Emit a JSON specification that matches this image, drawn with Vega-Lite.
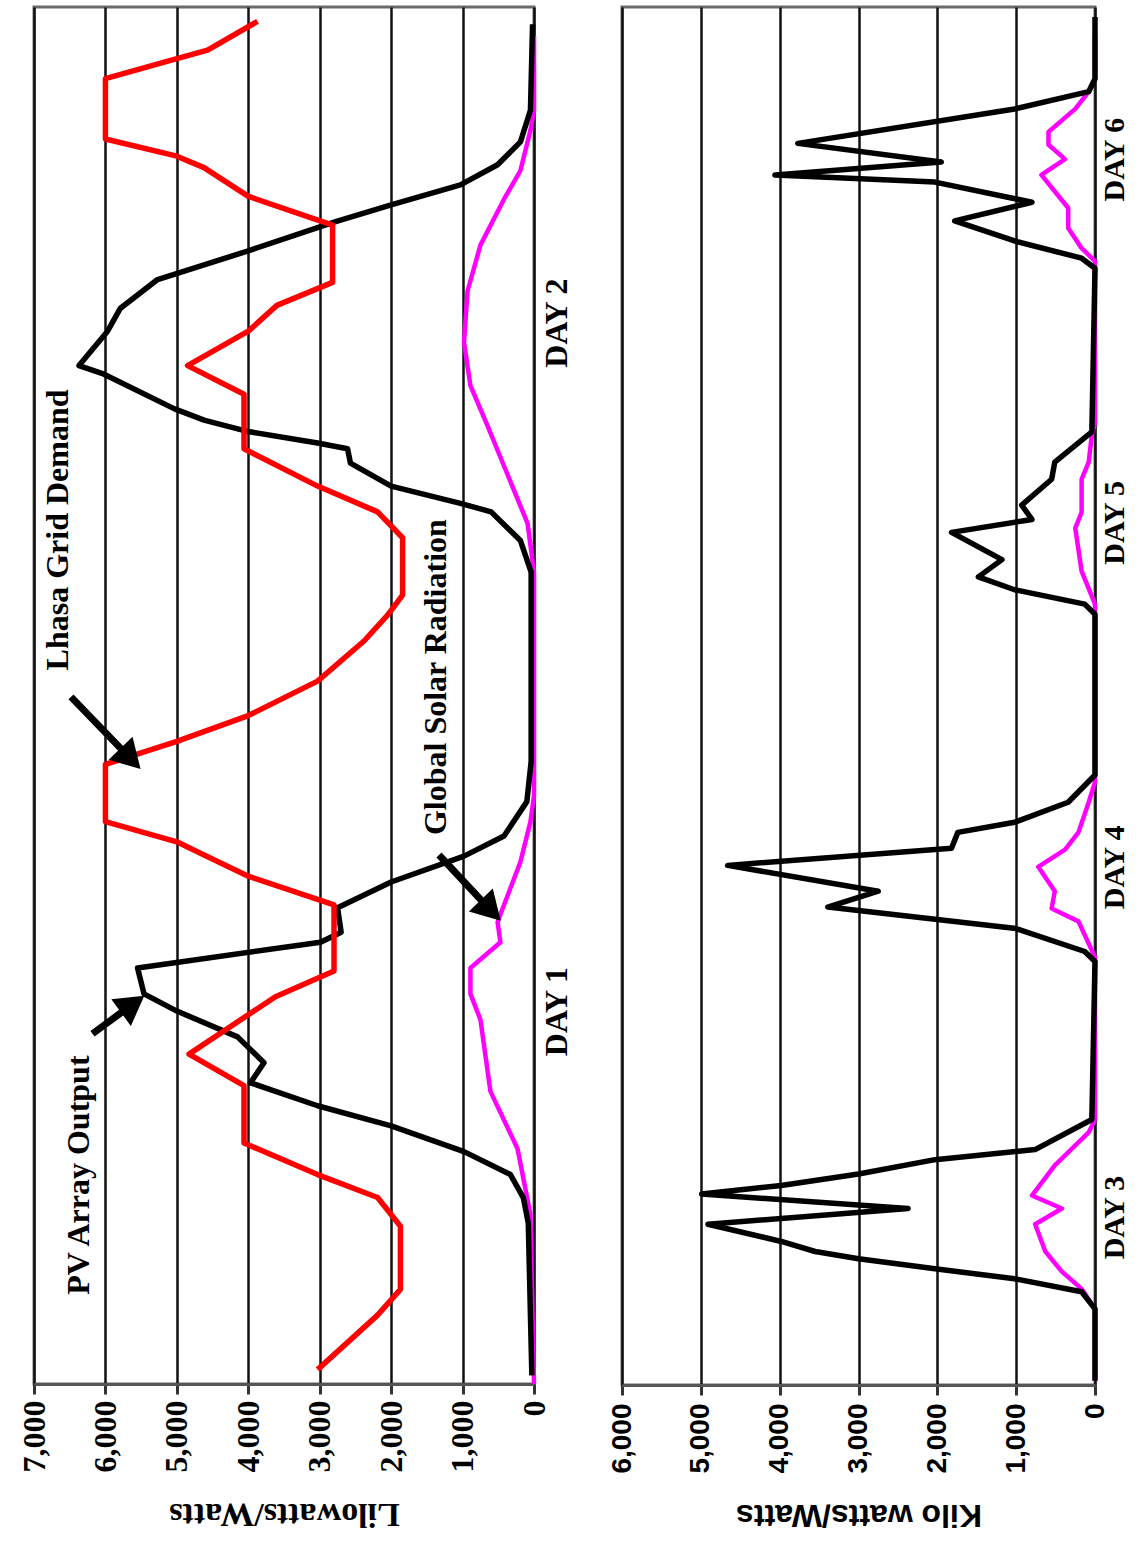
{
  "$schema": "https://vega.github.io/schema/vega-lite/v6.json",
  "padding": {"left": 16, "top": 5, "right": 0, "bottom": 0},
  "background": "white",
  "bounds": "flush",
  "spacing": 88,
  "config": {"view": {"stroke": "#6a6a6a", "strokeWidth": 3}, "line": {"strokeJoin": "round"}},
  "datasets": {
    "p1": [
      {"s":"Global Solar Radiation","h":0,"v":0},{"s":"Global Solar Radiation","h":5.9,"v":50},{"s":"Global Solar Radiation","h":8.2,"v":230},{"s":"Global Solar Radiation","h":10.2,"v":610},{"s":"Global Solar Radiation","h":12.7,"v":750},{"s":"Global Solar Radiation","h":13.6,"v":890},{"s":"Global Solar Radiation","h":14.5,"v":890},{"s":"Global Solar Radiation","h":15.4,"v":470},{"s":"Global Solar Radiation","h":16.1,"v":510},{"s":"Global Solar Radiation","h":16.7,"v":420},{"s":"Global Solar Radiation","h":18.2,"v":190},{"s":"Global Solar Radiation","h":19.6,"v":50},{"s":"Global Solar Radiation","h":20.5,"v":0},{"s":"Global Solar Radiation","h":28.3,"v":0},{"s":"Global Solar Radiation","h":30.0,"v":90},{"s":"Global Solar Radiation","h":32.0,"v":420},{"s":"Global Solar Radiation","h":33.4,"v":650},{"s":"Global Solar Radiation","h":34.8,"v":890},{"s":"Global Solar Radiation","h":36.3,"v":980},{"s":"Global Solar Radiation","h":38.1,"v":930},{"s":"Global Solar Radiation","h":39.7,"v":750},{"s":"Global Solar Radiation","h":41.3,"v":420},{"s":"Global Solar Radiation","h":42.3,"v":190},{"s":"Global Solar Radiation","h":43.7,"v":50},{"s":"Global Solar Radiation","h":44.4,"v":0},{"s":"Global Solar Radiation","h":47,"v":0},
      {"s":"PV Array Output","h":0.3,"v":30},{"s":"PV Array Output","h":5.6,"v":80},{"s":"PV Array Output","h":6.5,"v":150},{"s":"PV Array Output","h":7.3,"v":330},{"s":"PV Array Output","h":8.1,"v":980},{"s":"PV Array Output","h":9.0,"v":2000},{"s":"PV Array Output","h":9.7,"v":3030},{"s":"PV Array Output","h":10.5,"v":3970},{"s":"PV Array Output","h":11.2,"v":3780},{"s":"PV Array Output","h":12.1,"v":4150},{"s":"PV Array Output","h":13.0,"v":5000},{"s":"PV Array Output","h":13.6,"v":5460},{"s":"PV Array Output","h":14.5,"v":5550},{"s":"PV Array Output","h":15.4,"v":2990},{"s":"PV Array Output","h":15.75,"v":2700},{"s":"PV Array Output","h":16.6,"v":2750},{"s":"PV Array Output","h":17.5,"v":2000},{"s":"PV Array Output","h":18.4,"v":980},{"s":"PV Array Output","h":19.1,"v":420},{"s":"PV Array Output","h":20.3,"v":100},{"s":"PV Array Output","h":21.7,"v":40},{"s":"PV Array Output","h":28.3,"v":40},{"s":"PV Array Output","h":29.4,"v":190},{"s":"PV Array Output","h":30.4,"v":600},{"s":"PV Array Output","h":30.7,"v":1030},{"s":"PV Array Output","h":31.3,"v":2000},{"s":"PV Array Output","h":32.1,"v":2570},{"s":"PV Array Output","h":32.6,"v":2610},{"s":"PV Array Output","h":32.8,"v":3030},{"s":"PV Array Output","h":33.2,"v":4000},{"s":"PV Array Output","h":33.6,"v":4620},{"s":"PV Array Output","h":34.0,"v":5040},{"s":"PV Array Output","h":35.2,"v":6020},{"s":"PV Array Output","h":35.5,"v":6370},{"s":"PV Array Output","h":36.7,"v":5970},{"s":"PV Array Output","h":37.5,"v":5790},{"s":"PV Array Output","h":38.5,"v":5270},{"s":"PV Array Output","h":39.5,"v":4000},{"s":"PV Array Output","h":40.5,"v":2800},{"s":"PV Array Output","h":41.1,"v":2000},{"s":"PV Array Output","h":41.8,"v":1030},{"s":"PV Array Output","h":42.5,"v":510},{"s":"PV Array Output","h":43.3,"v":190},{"s":"PV Array Output","h":44.4,"v":50},{"s":"PV Array Output","h":47.4,"v":20},
      {"s":"Lhasa Grid Demand","h":0.5,"v":3030},{"s":"Lhasa Grid Demand","h":2.4,"v":2190},{"s":"Lhasa Grid Demand","h":3.3,"v":1870},{"s":"Lhasa Grid Demand","h":5.5,"v":1870},{"s":"Lhasa Grid Demand","h":6.5,"v":2190},{"s":"Lhasa Grid Demand","h":7.3,"v":3030},{"s":"Lhasa Grid Demand","h":8.4,"v":4060},{"s":"Lhasa Grid Demand","h":10.4,"v":4060},{"s":"Lhasa Grid Demand","h":11.5,"v":4830},{"s":"Lhasa Grid Demand","h":13.5,"v":3620},{"s":"Lhasa Grid Demand","h":14.4,"v":2800},{"s":"Lhasa Grid Demand","h":16.7,"v":2800},{"s":"Lhasa Grid Demand","h":17.7,"v":4000},{"s":"Lhasa Grid Demand","h":18.5,"v":4670},{"s":"Lhasa Grid Demand","h":18.9,"v":5000},{"s":"Lhasa Grid Demand","h":19.6,"v":6000},{"s":"Lhasa Grid Demand","h":21.6,"v":6000},{"s":"Lhasa Grid Demand","h":22.4,"v":5000},{"s":"Lhasa Grid Demand","h":23.3,"v":4000},{"s":"Lhasa Grid Demand","h":24.5,"v":3030},{"s":"Lhasa Grid Demand","h":25.9,"v":2380},{"s":"Lhasa Grid Demand","h":26.8,"v":2050},{"s":"Lhasa Grid Demand","h":27.5,"v":1840},{"s":"Lhasa Grid Demand","h":29.5,"v":1840},{"s":"Lhasa Grid Demand","h":30.4,"v":2190},{"s":"Lhasa Grid Demand","h":31.3,"v":3030},{"s":"Lhasa Grid Demand","h":32.6,"v":4060},{"s":"Lhasa Grid Demand","h":34.5,"v":4060},{"s":"Lhasa Grid Demand","h":35.5,"v":4850},{"s":"Lhasa Grid Demand","h":36.7,"v":4000},{"s":"Lhasa Grid Demand","h":37.6,"v":3600},{"s":"Lhasa Grid Demand","h":38.4,"v":2820},{"s":"Lhasa Grid Demand","h":40.4,"v":2820},{"s":"Lhasa Grid Demand","h":41.4,"v":4000},{"s":"Lhasa Grid Demand","h":42.4,"v":4620},{"s":"Lhasa Grid Demand","h":42.8,"v":5000},{"s":"Lhasa Grid Demand","h":43.4,"v":6000},{"s":"Lhasa Grid Demand","h":45.5,"v":6000},{"s":"Lhasa Grid Demand","h":46.2,"v":5000},{"s":"Lhasa Grid Demand","h":46.5,"v":4570},{"s":"Lhasa Grid Demand","h":47.5,"v":3870}
    ],
    "p2": [
      {"s":"Global Solar Radiation","h":0.3,"v":0},{"s":"Global Solar Radiation","h":5.3,"v":0},{"s":"Global Solar Radiation","h":6.7,"v":170},{"s":"Global Solar Radiation","h":7.9,"v":420},{"s":"Global Solar Radiation","h":9.3,"v":630},{"s":"Global Solar Radiation","h":11.2,"v":760},{"s":"Global Solar Radiation","h":12.3,"v":420},{"s":"Global Solar Radiation","h":13.2,"v":800},{"s":"Global Solar Radiation","h":15.3,"v":510},{"s":"Global Solar Radiation","h":17.6,"v":80},{"s":"Global Solar Radiation","h":18.5,"v":0},{"s":"Global Solar Radiation","h":29.8,"v":0},{"s":"Global Solar Radiation","h":32.3,"v":210},{"s":"Global Solar Radiation","h":33.2,"v":550},{"s":"Global Solar Radiation","h":34.4,"v":510},{"s":"Global Solar Radiation","h":36.1,"v":720},{"s":"Global Solar Radiation","h":37.3,"v":380},{"s":"Global Solar Radiation","h":38.5,"v":210},{"s":"Global Solar Radiation","h":40.6,"v":80},{"s":"Global Solar Radiation","h":42,"v":0},{"s":"Global Solar Radiation","h":54.4,"v":0},{"s":"Global Solar Radiation","h":56.7,"v":170},{"s":"Global Solar Radiation","h":59.7,"v":250},{"s":"Global Solar Radiation","h":60.8,"v":170},{"s":"Global Solar Radiation","h":63.1,"v":170},{"s":"Global Solar Radiation","h":64.3,"v":80},{"s":"Global Solar Radiation","h":66.2,"v":40},{"s":"Global Solar Radiation","h":67,"v":0},{"s":"Global Solar Radiation","h":78.3,"v":0},{"s":"Global Solar Radiation","h":79.2,"v":170},{"s":"Global Solar Radiation","h":80.6,"v":340},{"s":"Global Solar Radiation","h":82.0,"v":340},{"s":"Global Solar Radiation","h":84.3,"v":680},{"s":"Global Solar Radiation","h":85.4,"v":380},{"s":"Global Solar Radiation","h":86.4,"v":590},{"s":"Global Solar Radiation","h":87.3,"v":590},{"s":"Global Solar Radiation","h":88.9,"v":250},{"s":"Global Solar Radiation","h":90.1,"v":80},{"s":"Global Solar Radiation","h":91,"v":0},{"s":"Global Solar Radiation","h":94,"v":0},
      {"s":"PV Array Output","h":0.3,"v":0},{"s":"PV Array Output","h":5.3,"v":0},{"s":"PV Array Output","h":6.5,"v":170},{"s":"PV Array Output","h":7.4,"v":1020},{"s":"PV Array Output","h":8.1,"v":2030},{"s":"PV Array Output","h":8.8,"v":3000},{"s":"PV Array Output","h":9.3,"v":3550},{"s":"PV Array Output","h":10.0,"v":3980},{"s":"PV Array Output","h":11.2,"v":4910},{"s":"PV Array Output","h":12.3,"v":2370},{"s":"PV Array Output","h":13.3,"v":4990},{"s":"PV Array Output","h":13.9,"v":3980},{"s":"PV Array Output","h":14.7,"v":3000},{"s":"PV Array Output","h":15.7,"v":2030},{"s":"PV Array Output","h":16.4,"v":760},{"s":"PV Array Output","h":18.5,"v":40},{"s":"PV Array Output","h":29.5,"v":0},{"s":"PV Array Output","h":30.2,"v":130},{"s":"PV Array Output","h":31.8,"v":1000},{"s":"PV Array Output","h":33.3,"v":3390},{"s":"PV Array Output","h":34.4,"v":2750},{"s":"PV Array Output","h":36.2,"v":4660},{"s":"PV Array Output","h":37.4,"v":1820},{"s":"PV Array Output","h":38.5,"v":1740},{"s":"PV Array Output","h":39.2,"v":1020},{"s":"PV Array Output","h":40.6,"v":340},{"s":"PV Array Output","h":42.5,"v":0},{"s":"PV Array Output","h":53.7,"v":0},{"s":"PV Array Output","h":54.4,"v":130},{"s":"PV Array Output","h":55.4,"v":1020},{"s":"PV Array Output","h":56.3,"v":1480},{"s":"PV Array Output","h":57.5,"v":1180},{"s":"PV Array Output","h":59.4,"v":1820},{"s":"PV Array Output","h":60.3,"v":800},{"s":"PV Array Output","h":61.3,"v":930},{"s":"PV Array Output","h":63.1,"v":550},{"s":"PV Array Output","h":64.3,"v":510},{"s":"PV Array Output","h":66.4,"v":40},{"s":"PV Array Output","h":77.8,"v":0},{"s":"PV Array Output","h":78.5,"v":170},{"s":"PV Array Output","h":79.7,"v":1020},{"s":"PV Array Output","h":81.1,"v":1780},{"s":"PV Array Output","h":82.4,"v":800},{"s":"PV Array Output","h":83.8,"v":2030},{"s":"PV Array Output","h":84.3,"v":4060},{"s":"PV Array Output","h":85.2,"v":1950},{"s":"PV Array Output","h":86.5,"v":3770},{"s":"PV Array Output","h":88.9,"v":1020},{"s":"PV Array Output","h":90.1,"v":80},{"s":"PV Array Output","h":91,"v":0},{"s":"PV Array Output","h":95.3,"v":0}
    ],
    "ann": [
      {"label":"PV Array Output","v":6372,"h":7.28},
      {"label":"Lhasa Grid Demand","v":6666,"h":29.77},
      {"label":"Global Solar Radiation","v":1372,"h":24.64}
    ],
    "arrows": [
      {"name":"pv","v":6181,"h":12.21,"v2":5618,"h2":13.24},
      {"name":"lhasa","v":6482,"h":23.95,"v2":5648,"h2":21.8},
      {"name":"solar","v":1330,"h":18.44,"v2":605,"h2":16.51}
    ]
  },
  "hconcat": [
    {
      "width": 500,
      "height": 1377,
      "layer": [
        {
          "data": {"name": "p1"},
          "transform": [{"filter": "datum.s == 'Global Solar Radiation'"}],
          "mark": {"type": "line", "strokeWidth": 4.5, "color": "#ff00ff"},
          "encoding": {
            "x": {"field": "v", "type": "quantitative",
              "scale": {"domain": [0, 7000], "reverse": true, "nice": false, "zero": true},
              "axis": {"orient": "bottom", "values": [0,1000,2000,3000,4000,5000,6000,7000], "format": ",.0f", "labelFlush": false, "labelOverlap": false,
                "labelAngle": -90, "labelAlign": "right", "labelBaseline": "middle",
                "labelFont": "Liberation Serif", "labelFontWeight": "bold", "labelFontSize": 32, "labelColor": "black", "labelPadding": 6,
                "tickColor": "#333", "tickSize": 10, "tickWidth": 3,
                "domainColor": "#555", "domainWidth": 3,
                "grid": true, "gridColor": "#111", "gridWidth": 2.5, "gridOpacity": 1,
                "title": "Lilowatts/Watts", "titleAngle": 180, "titleBaseline": "bottom", "titleFont": "Liberation Serif", "titleFontSize": 34, "titleFontWeight": "bold", "titleColor": "black", "titlePadding": 24}},
            "y": {"field": "h", "type": "quantitative",
              "scale": {"domain": [0, 48], "nice": false},
              "axis": {"orient": "right", "values": [13, 37], "labelExpr": "datum.value < 25 ? 'DAY 1' : 'DAY 2'", "labelFlush": false,
                "labelAngle": -90, "labelAlign": "center", "labelBaseline": "top",
                "labelFont": "Liberation Serif", "labelFontWeight": "bold", "labelFontSize": 32, "labelColor": "black", "labelPadding": 7,
                "ticks": false, "domain": false, "grid": false, "title": null}},
            "order": {"field": "h", "type": "quantitative"}
          }
        },
        {
          "data": {"name": "p1"},
          "transform": [{"filter": "datum.s == 'PV Array Output'"}],
          "mark": {"type": "line", "strokeWidth": 5.5, "color": "#000000"},
          "encoding": {
            "x": {"field": "v", "type": "quantitative"},
            "y": {"field": "h", "type": "quantitative"},
            "order": {"field": "h", "type": "quantitative"}
          }
        },
        {
          "data": {"name": "p1"},
          "transform": [{"filter": "datum.s == 'Lhasa Grid Demand'"}],
          "mark": {"type": "line", "strokeWidth": 5.5, "color": "#ff0000"},
          "encoding": {
            "x": {"field": "v", "type": "quantitative"},
            "y": {"field": "h", "type": "quantitative"},
            "order": {"field": "h", "type": "quantitative"}
          }
        },
        {
          "data": {"name": "ann"},
          "mark": {"type": "text", "angle": 270, "align": "center", "baseline": "middle", "font": "Liberation Serif", "fontWeight": "bold", "fontSize": 32, "color": "black"},
          "encoding": {
            "x": {"field": "v", "type": "quantitative"},
            "y": {"field": "h", "type": "quantitative"},
            "text": {"field": "label"}
          }
        },
        {
          "data": {"name": "arrows"},
          "mark": {"type": "rule", "strokeWidth": 7, "color": "black"},
          "encoding": {
            "x": {"field": "v", "type": "quantitative"},
            "x2": {"field": "v2"},
            "y": {"field": "h", "type": "quantitative"},
            "y2": {"field": "h2"}
          }
        },
        {
          "data": {"name": "arrows"},
          "transform": [{"filter": "datum.name == 'pv'"}],
          "mark": {"type": "point", "shape": "triangle-up", "filled": true, "size": 1100, "angle": 54, "color": "black", "opacity": 1},
          "encoding": {
            "x": {"field": "v2", "type": "quantitative"},
            "y": {"field": "h2", "type": "quantitative"}
          }
        },
        {
          "data": {"name": "arrows"},
          "transform": [{"filter": "datum.name != 'pv'"}],
          "mark": {"type": "point", "shape": "triangle-up", "filled": true, "size": 1100, "angle": 136, "color": "black", "opacity": 1},
          "encoding": {
            "x": {"field": "v2", "type": "quantitative"},
            "y": {"field": "h2", "type": "quantitative"}
          }
        }
      ]
    },
    {
      "width": 473,
      "height": 1378,
      "layer": [
        {
          "data": {"name": "p2"},
          "transform": [{"filter": "datum.s == 'Global Solar Radiation'"}],
          "mark": {"type": "line", "strokeWidth": 4.5, "color": "#ff00ff"},
          "encoding": {
            "x": {"field": "v", "type": "quantitative",
              "scale": {"domain": [0, 6000], "reverse": true, "nice": false, "zero": true},
              "axis": {"orient": "bottom", "values": [0,1000,2000,3000,4000,5000,6000], "format": ",.0f", "labelFlush": false, "labelOverlap": false,
                "labelAngle": -90, "labelAlign": "right", "labelBaseline": "middle",
                "labelFont": "Liberation Sans", "labelFontWeight": "bold", "labelFontSize": 28, "labelColor": "black", "labelPadding": 8,
                "tickColor": "#333", "tickSize": 10, "tickWidth": 3,
                "domainColor": "#555", "domainWidth": 3,
                "grid": true, "gridColor": "#111", "gridWidth": 2.5, "gridOpacity": 1,
                "title": "Kilo watts/Watts", "titleAngle": 180, "titleBaseline": "bottom", "titleFont": "Liberation Sans", "titleFontSize": 32, "titleFontWeight": "bold", "titleColor": "black", "titlePadding": 24}},
            "y": {"field": "h", "type": "quantitative",
              "scale": {"domain": [0, 96], "nice": false},
              "axis": {"orient": "right", "values": [11.7, 36.1, 60.1, 85.4], "labelFlush": false,
                "labelExpr": "datum.value < 24 ? 'DAY 3' : datum.value < 48 ? 'DAY 4' : datum.value < 72 ? 'DAY 5' : 'DAY 6'",
                "labelAngle": -90, "labelAlign": "center", "labelBaseline": "top",
                "labelFont": "Liberation Serif", "labelFontWeight": "bold", "labelFontSize": 30, "labelColor": "black", "labelPadding": 4,
                "ticks": false, "domain": false, "grid": false, "title": null}},
            "order": {"field": "h", "type": "quantitative"}
          }
        },
        {
          "data": {"name": "p2"},
          "transform": [{"filter": "datum.s == 'PV Array Output'"}],
          "mark": {"type": "line", "strokeWidth": 5.5, "color": "#000000"},
          "encoding": {
            "x": {"field": "v", "type": "quantitative"},
            "y": {"field": "h", "type": "quantitative"},
            "order": {"field": "h", "type": "quantitative"}
          }
        }
      ]
    }
  ]
}
